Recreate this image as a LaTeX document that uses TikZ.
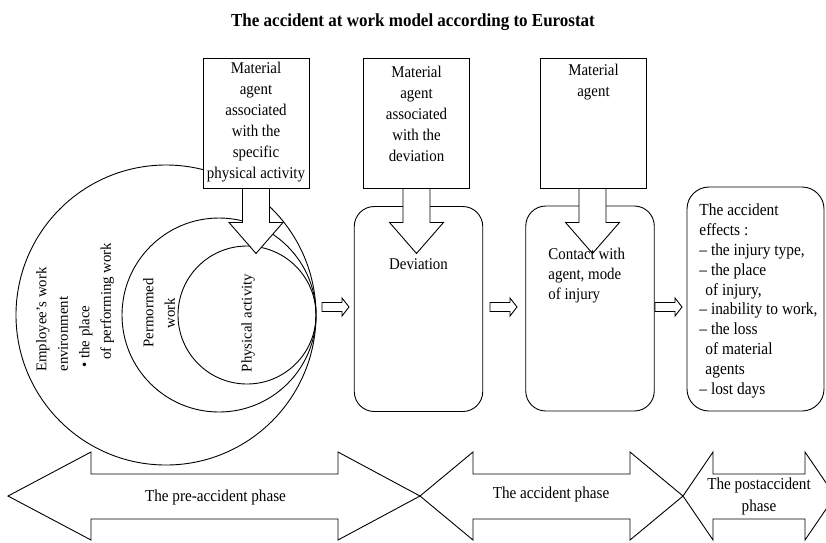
\documentclass[tikz,border=0pt]{standalone}
\usepackage{fontspec}
\setmainfont{Liberation Serif}
\usetikzlibrary{calc}

\tikzset{
  every node/.style={inner sep=0pt},
  titletext/.style={yscale=1.08, font=\bfseries\fontsize{17}{18}\selectfont},
  boxtext/.style={yscale=1.1, font=\fontsize{14.9}{19.1}\selectfont},
  conttext/.style={yscale=1.1, font=\fontsize{14.9}{18.2}\selectfont},
  efftext/.style={yscale=1.1, font=\fontsize{15.4}{18}\selectfont},
  phasetext/.style={yscale=1.1, font=\fontsize{15.2}{20}\selectfont},
  circtext/.style={rotate=90, font=\fontsize{14.8}{21.5}\selectfont},
  agentbox/.style={rectangle, draw, fill=white, minimum width=106pt, minimum height=130pt},
  stagebox/.style={rectangle, draw, rounded corners=20pt, minimum width=128.5pt, minimum height=205pt},
  blockarrow/.style={draw, fill=white, line join=miter}
}

\begin{document}
\begin{tikzpicture}[x=1pt, y=-1pt, line width=0.9pt]
  \useasboundingbox (0,0) rectangle (826,542);

  % title
  \node[titletext] (title) at (413,22) {The accident at work model according to Eurostat};

  % work environment circles
  \node[draw, circle, minimum size=300pt] (envcirc) at (166,315) {};
  \node[draw, circle, minimum size=194pt] (workcirc) at (219,315) {};
  \node[draw, circle, minimum size=138pt] (actcirc) at (247,315) {};

  \node[circtext, anchor=west, align=left] (envtxt) at (75,372) {Employee’s work\\environment\\\hspace*{4pt}\textbullet{} the place\\\hspace*{12pt}of performing work};
  \node[circtext, align=center] (worktxt) at (159,313) {Permormed\\work};
  \node[circtext] (acttxt) at (248,323) {Physical activity};

  % stages
  \node[stagebox] (devbox) at (418.5,309) {};
  \node[stagebox] (contbox) at (590,308.5) {};
  \node[stagebox, minimum width=137pt, minimum height=224pt, rounded corners=22pt] (effbox) at (755.5,299) {};

  % material agents
  \node[agentbox] (agent1) at (256,123) {};
  \node[agentbox] (agent2) at (416.5,123) {};
  \node[agentbox] (agent3) at (593.5,123) {};

  \draw[blockarrow] ($(agent1.south)+(-13.5,0)$) -- ++(0,34) -- ++(-13.5,0) -- ++(27,31) -- ++(27,-31) -- ++(-13.5,0) -- ++(0,-34) -- cycle;
  \draw[blockarrow] ($(agent2.south)+(-13.5,0)$) -- ++(0,34) -- ++(-13.5,0) -- ++(27,31) -- ++(27,-31) -- ++(-13.5,0) -- ++(0,-34) -- cycle;
  \draw[blockarrow] ($(agent3.south)+(-14.5,0)$) -- ++(0,34) -- ++(-13.5,0) -- ++(27,31) -- ++(27,-31) -- ++(-13.5,0) -- ++(0,-34) -- cycle;

  \node[boxtext, align=center] (agent1txt) at (256,122) {Material\\agent\\associated\\with the\\specific\\physical activity};
  \node[boxtext, align=center] (agent2txt) at (416.5,114) {Material\\agent\\associated\\with the\\deviation};
  \node[boxtext, align=center] (agent3txt) at (593.5,82.5) {Material\\agent};

  \node[boxtext] (devtxt) at (418.5,264) {Deviation};
  \node[conttext, anchor=west, align=left] (conttxt) at (548,276) {Contact with\\agent, mode\\of injury};
  \node[efftext, anchor=west, align=left] (efftxt) at (699,301) {The accident\\effects :\\– the injury type,\\– the place\\\hspace*{6pt}of injury,\\– inability to work,\\– the loss\\\hspace*{6pt}of material\\\hspace*{6pt}agents\\– lost days};

  % arrows between stages
  \draw[blockarrow] (322,302.5) -- ++(20,0) -- ++(0,-4.5) -- ++(7,9) -- ++(-7,9) -- ++(0,-4.5) -- ++(-20,0) -- cycle;
  \draw[blockarrow] (490,302.5) -- ++(20,0) -- ++(0,-4.5) -- ++(7,9) -- ++(-7,9) -- ++(0,-4.5) -- ++(-20,0) -- cycle;
  \draw[blockarrow] (655,302.5) -- ++(20,0) -- ++(0,-4.5) -- ++(7,9) -- ++(-7,9) -- ++(0,-4.5) -- ++(-20,0) -- cycle;

  % phases
  \draw[blockarrow] (8,496) -- (91,452) -- (91,474) -- (338,474) -- (338,452) -- (420,496) -- (338,540) -- (338,519) -- (91,519) -- (91,540) -- cycle;
  \draw[blockarrow] (420,496) -- (473,452) -- (473,474) -- (630,474) -- (630,452) -- (683,496) -- (630,540) -- (630,519) -- (473,519) -- (473,540) -- cycle;
  \draw[blockarrow] (683,496) -- (713,452) -- (713,474) -- (805,474) -- (805,452) -- (835,496) -- (805,540) -- (805,519) -- (713,519) -- (713,540) -- cycle;

  \node[phasetext] (pretxt) at (215.5,497) {The pre-accident phase};
  \node[phasetext] (acctxt) at (551,494) {The accident phase};
  \node[phasetext, align=center] (posttxt) at (759,496) {The postaccident\\phase};
\end{tikzpicture}
\end{document}
